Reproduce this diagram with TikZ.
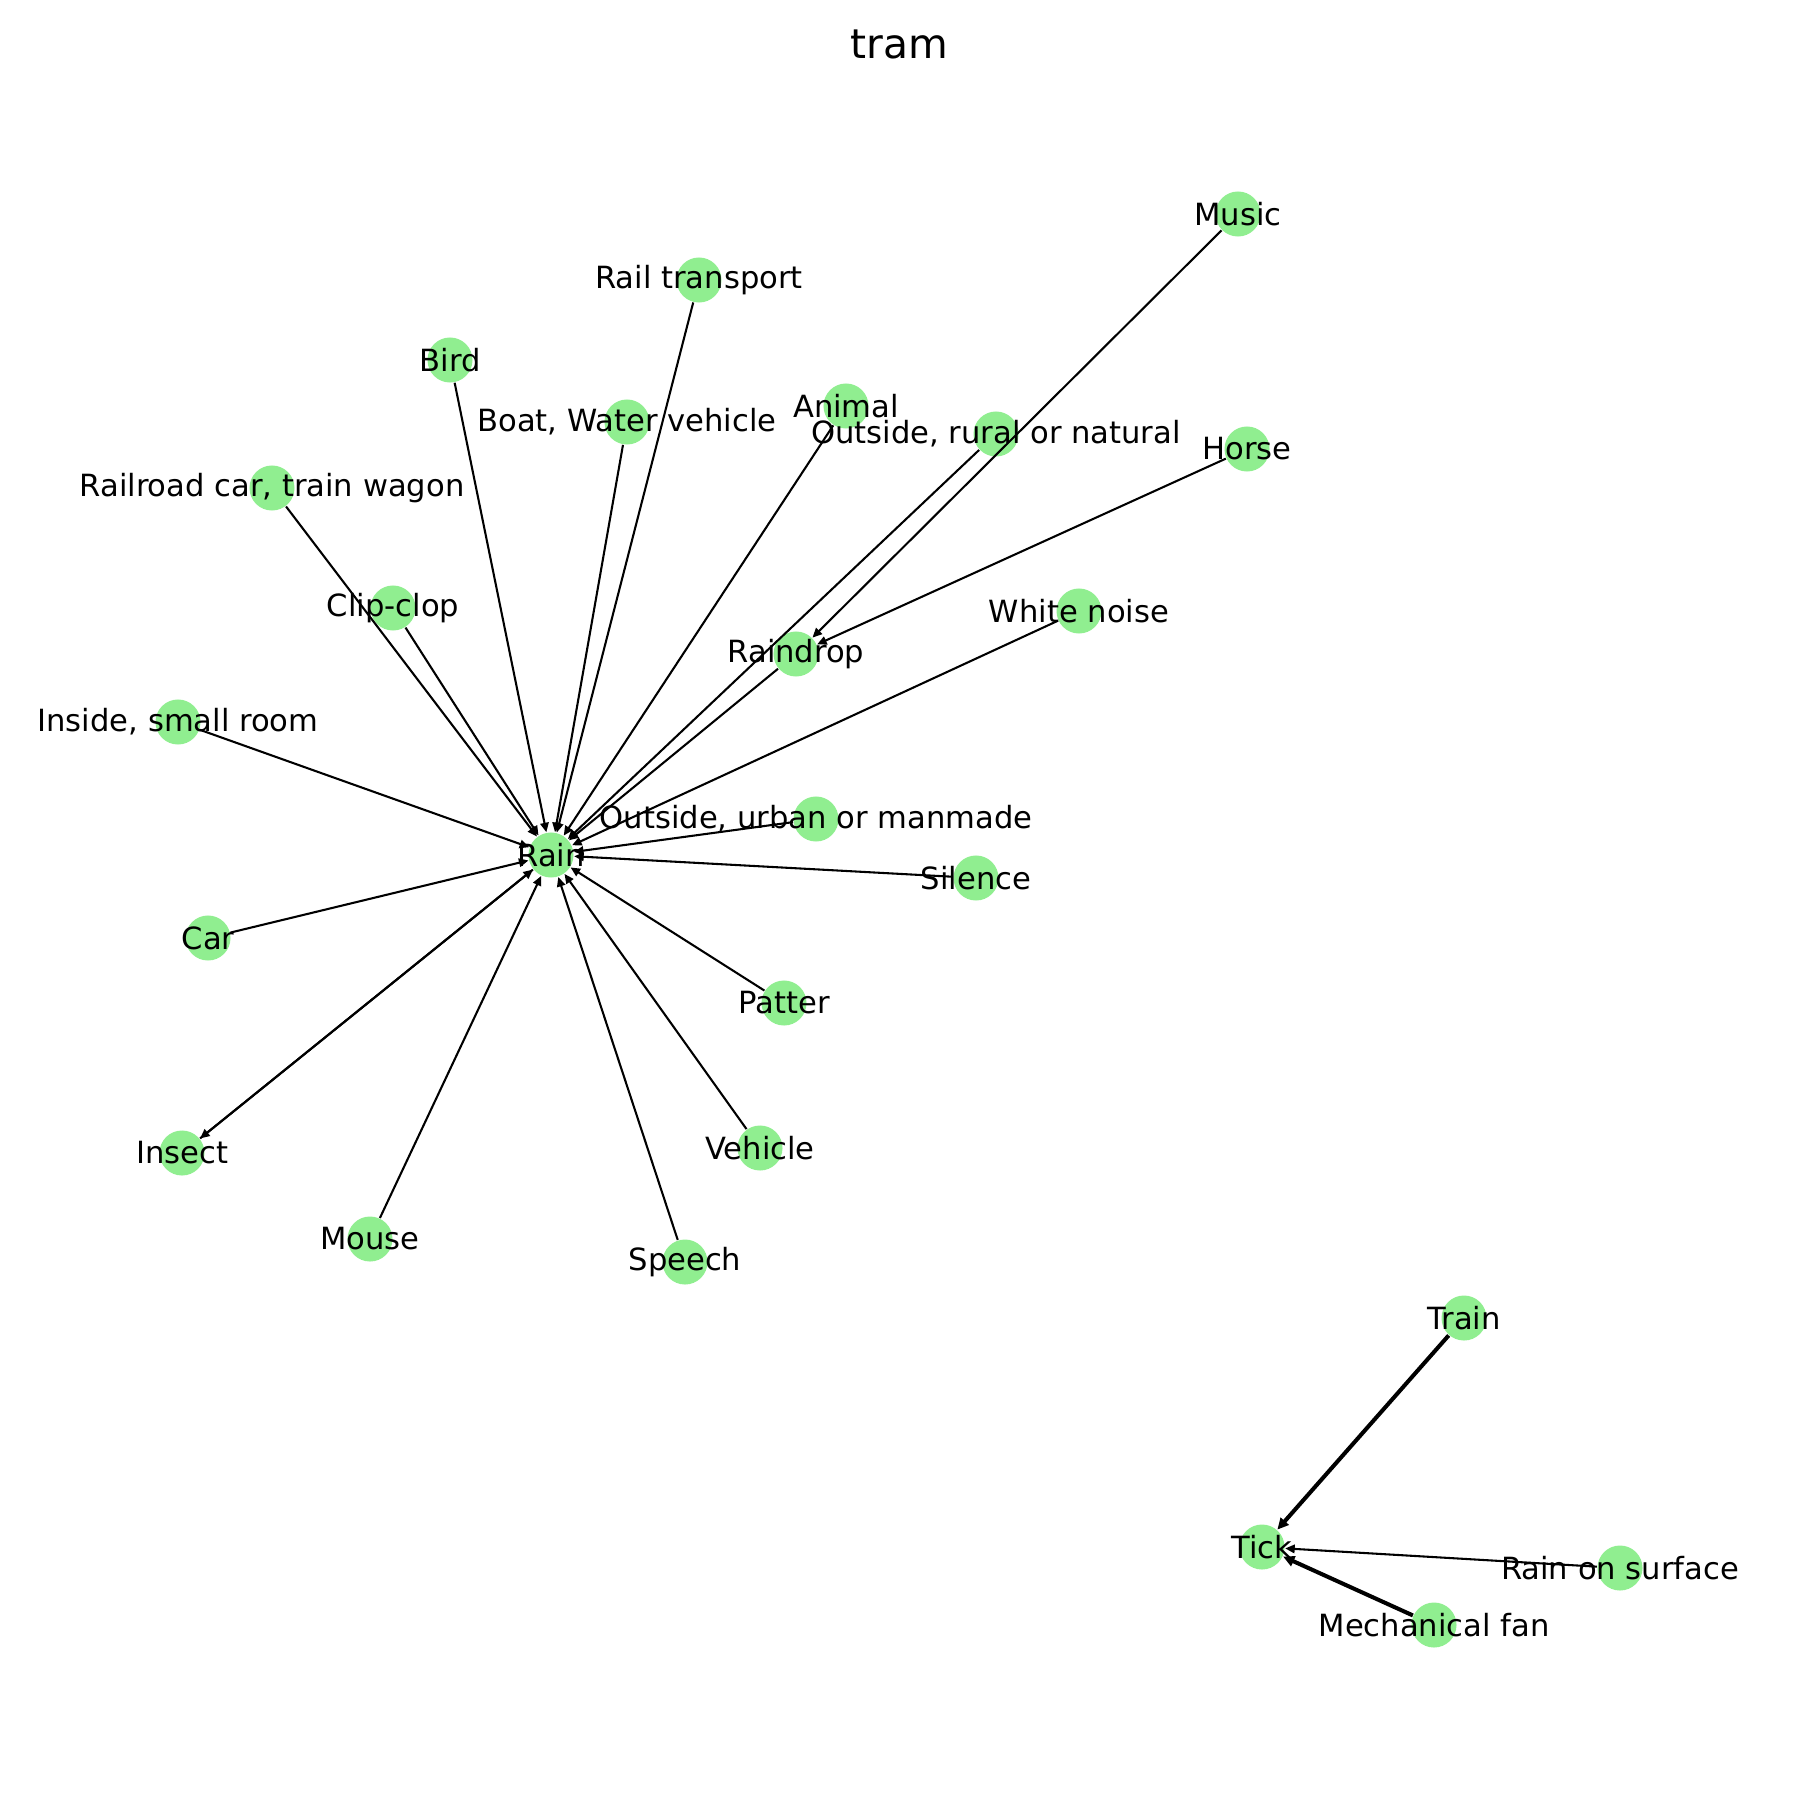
\documentclass[tikz,border=0pt]{standalone}
\usepackage{fontspec}
\setmainfont{DejaVu Sans}
\usetikzlibrary{arrows.meta}
\definecolor{nodegreen}{HTML}{90EE90}
\tikzset{
  gnode/.style={circle,fill=nodegreen,draw=none,minimum size=0.45cm,inner sep=0pt},
  glabel/.style={inner sep=0pt,font=\fontsize{8.7pt}{10pt}\selectfont,text=black},
  edge/.style={line width=0.59pt,-{Triangle[length=2.7pt,width=2.4pt]}},
  thickedge/.style={line width=1.15pt,-{Triangle[length=3.2pt,width=3pt]}}
}
\begin{document}
\begin{tikzpicture}[x=0.01cm,y=-0.01cm]
\useasboundingbox (0,0) rectangle (1800,1800);
\node[inner sep=0pt,font=\fontsize{11.6pt}{13pt}\selectfont] (title) at (899,44) {tram};
% nodes
\node[gnode] (rain) at (551,855) {};
\node[gnode] (music) at (1238,214) {};
\node[gnode] (railt) at (699,280) {};
\node[gnode] (bird) at (450,360) {};
\node[gnode] (animal) at (846,406) {};
\node[gnode] (boat) at (627,422) {};
\node[gnode] (outrural) at (996,434) {};
\node[gnode] (horse) at (1247,449) {};
\node[gnode] (railroad) at (272,488) {};
\node[gnode] (clip) at (393,608) {};
\node[gnode] (white) at (1079,611) {};
\node[gnode] (raindrop) at (796,654) {};
\node[gnode] (inside) at (178,722) {};
\node[gnode] (outurban) at (816,819) {};
\node[gnode] (silence) at (976,878) {};
\node[gnode] (car) at (208,938) {};
\node[gnode] (patter) at (784,1003) {};
\node[gnode] (insect) at (182,1153) {};
\node[gnode] (vehicle) at (760,1148) {};
\node[gnode] (mouse) at (370,1239) {};
\node[gnode] (speech) at (685,1262) {};
\node[gnode] (train) at (1464,1318) {};
\node[gnode] (tick) at (1262,1547) {};
\node[gnode] (rsurf) at (1620,1568) {};
\node[gnode] (fan) at (1434,1625) {};
% edges
\draw[edge] (music) -- (raindrop);
\draw[edge] (railt) -- (rain);
\draw[edge] (bird) -- (rain);
\draw[edge] (animal) -- (rain);
\draw[edge] (boat) -- (rain);
\draw[edge] (outrural) -- (rain);
\draw[edge] (horse) -- (raindrop);
\draw[edge] (railroad) -- (rain);
\draw[edge] (clip) -- (rain);
\draw[edge] (white) -- (rain);
\draw[edge] (raindrop) -- (rain);
\draw[edge] (inside) -- (rain);
\draw[edge] (outurban) -- (rain);
\draw[edge] (silence) -- (rain);
\draw[edge] (car) -- (rain);
\draw[edge] (patter) -- (rain);
\draw[edge] (rain) -- (insect);
\draw[edge] (insect) -- (rain);
\draw[edge] (vehicle) -- (rain);
\draw[edge] (mouse) -- (rain);
\draw[edge] (speech) -- (rain);
\draw[thickedge] (train) -- (tick);
\draw[edge] (rsurf) -- (tick);
\draw[thickedge] (fan) -- (tick);
% labels
\node[glabel] (rain-t) at (rain.center) {Rain};
\node[glabel] (music-t) at (music.center) {Music};
\node[glabel] (railt-t) at (railt.center) {Rail transport};
\node[glabel] (bird-t) at (bird.center) {Bird};
\node[glabel] (animal-t) at (animal.center) {Animal};
\node[glabel] (boat-t) at (boat.center) {Boat, Water vehicle};
\node[glabel] (outrural-t) at (outrural.center) {Outside, rural or natural};
\node[glabel] (horse-t) at (horse.center) {Horse};
\node[glabel] (railroad-t) at (railroad.center) {Railroad car, train wagon};
\node[glabel] (clip-t) at (clip.center) {Clip-clop};
\node[glabel] (white-t) at (white.center) {White noise};
\node[glabel] (raindrop-t) at (raindrop.center) {Raindrop};
\node[glabel] (inside-t) at (inside.center) {Inside, small room};
\node[glabel] (outurban-t) at (outurban.center) {Outside, urban or manmade};
\node[glabel] (silence-t) at (silence.center) {Silence};
\node[glabel] (car-t) at (car.center) {Car};
\node[glabel] (patter-t) at (patter.center) {Patter};
\node[glabel] (insect-t) at (insect.center) {Insect};
\node[glabel] (vehicle-t) at (vehicle.center) {Vehicle};
\node[glabel] (mouse-t) at (mouse.center) {Mouse};
\node[glabel] (speech-t) at (speech.center) {Speech};
\node[glabel] (train-t) at (train.center) {Train};
\node[glabel] (tick-t) at (tick.center) {Tick};
\node[glabel] (rsurf-t) at (rsurf.center) {Rain on surface};
\node[glabel] (fan-t) at (fan.center) {Mechanical fan};
\end{tikzpicture}
\end{document}
